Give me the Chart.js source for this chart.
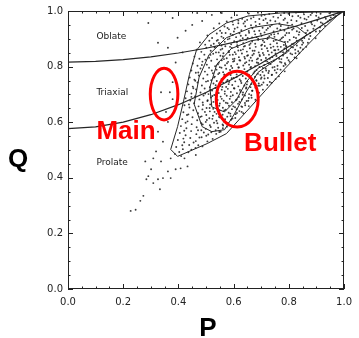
<!DOCTYPE html>
<html>
<head>
<meta charset="utf-8">
<script src="https://cdn.jsdelivr.net/npm/chart.js@4/dist/chart.umd.min.js"></script>
<style>
  html, body { margin: 0; padding: 0; background: #fff; }
  #box { width: 359px; height: 338px; }
</style>
</head>
<body>
<div id="box"><canvas id="chart" width="359" height="338"></canvas></div>
<script>
// axis ticks
const majorTicks = [0, 0.2, 0.4, 0.6, 0.8, 1.0];
const minorTicks = [0.05, 0.1, 0.15, 0.25, 0.3, 0.35, 0.45, 0.5, 0.55, 0.65, 0.7, 0.75, 0.85, 0.9, 0.95];

// boundary curves (oblate / triaxial / prolate)
const edgeP    = [0, 0.1, 0.2, 0.3, 0.4, 0.5, 0.6, 0.7, 0.8, 0.9, 1.0];
const oblateQ  = [0.816, 0.819, 0.825, 0.835, 0.849, 0.866, 0.887, 0.911, 0.938, 0.968, 1.0];
const prolateQ = [0.577, 0.583, 0.600, 0.627, 0.663, 0.707, 0.757, 0.812, 0.872, 0.935, 1.0];

// density contours [P, Q]
const outerContour = [[0.418,0.673],[0.397,0.584],[0.372,0.502],[0.397,0.477],[0.504,0.523],[0.574,0.559],
  [0.645,0.637],[0.716,0.715],[0.787,0.794],[0.858,0.868],[0.929,0.940],[0.989,0.996],[0.894,0.996],
  [0.770,0.993],[0.652,0.982],[0.574,0.957],[0.511,0.915],[0.465,0.858],[0.440,0.772],[0.418,0.673]];
const middleContour = [[0.486,0.584],[0.457,0.665],[0.475,0.762],[0.511,0.843],[0.574,0.904],[0.663,0.940],
  [0.759,0.954],[0.830,0.943],[0.865,0.915],[0.823,0.879],[0.759,0.829],[0.688,0.779],[0.645,0.708],
  [0.603,0.630],[0.567,0.573],[0.521,0.566],[0.486,0.584]];
const innerContour = [[0.521,0.655],[0.514,0.726],[0.539,0.808],[0.592,0.865],[0.663,0.893],[0.734,0.904],
  [0.787,0.886],[0.794,0.851],[0.745,0.822],[0.688,0.794],[0.645,0.744],[0.610,0.680],[0.567,0.637],[0.521,0.655]];

// galaxy shapes [P, Q]
const galaxyPoints = [
  [0.655,0.991],[0.672,0.978],[0.688,0.994],[0.701,0.983],[0.716,0.972],[0.729,0.989],[0.744,0.979],[0.757,0.995],[0.771,0.985],[0.786,0.973],[0.799,0.990],[0.813,0.981],[0.826,0.994],[0.842,0.976],[0.855,0.988],[0.871,0.979],[0.884,0.993],[0.899,0.983],[0.915,0.990],[0.931,0.978],[0.947,0.992],[0.962,0.985],[0.978,0.993],[0.612,0.985],[0.631,0.972],[0.592,0.976],
  [0.575,0.962],[0.598,0.951],[0.617,0.966],[0.636,0.955],[0.649,0.968],[0.663,0.949],[0.679,0.961],[0.694,0.953],[0.708,0.967],[0.722,0.957],[0.738,0.950],[0.751,0.963],[0.766,0.955],[0.781,0.968],[0.795,0.958],[0.812,0.951],[0.828,0.964],[0.846,0.956],[0.864,0.969],[0.881,0.958],[0.903,0.966],[0.922,0.955],[0.941,0.962],[0.548,0.955],
  [0.528,0.938],[0.551,0.929],[0.567,0.944],[0.583,0.934],[0.601,0.926],[0.614,0.941],[0.628,0.931],[0.642,0.945],[0.655,0.928],[0.668,0.938],[0.681,0.947],[0.693,0.929],[0.705,0.940],[0.719,0.932],[0.732,0.944],[0.745,0.926],[0.758,0.937],[0.771,0.946],[0.784,0.930],[0.798,0.941],[0.812,0.933],[0.829,0.927],[0.847,0.939],[0.868,0.930],[0.889,0.936],[0.912,0.928],
  [0.505,0.912],[0.522,0.903],[0.539,0.919],[0.556,0.908],[0.571,0.921],[0.585,0.901],[0.597,0.914],[0.609,0.906],[0.621,0.920],[0.633,0.902],[0.644,0.913],[0.656,0.922],[0.667,0.905],[0.678,0.916],[0.689,0.900],[0.701,0.911],[0.712,0.923],[0.724,0.904],[0.736,0.915],[0.748,0.907],[0.761,0.919],[0.774,0.902],[0.787,0.913],[0.801,0.921],[0.818,0.906],[0.836,0.915],[0.856,0.903],[0.878,0.910],[0.897,0.902],
  [0.478,0.887],[0.497,0.879],[0.512,0.893],[0.528,0.882],[0.543,0.896],[0.556,0.876],[0.568,0.889],[0.579,0.898],[0.591,0.880],[0.602,0.891],[0.613,0.877],[0.624,0.895],[0.635,0.884],[0.646,0.897],[0.657,0.878],[0.667,0.890],[0.678,0.882],[0.689,0.896],[0.700,0.876],[0.711,0.888],[0.722,0.899],[0.733,0.880],[0.745,0.892],[0.757,0.884],[0.769,0.897],[0.782,0.878],[0.796,0.889],[0.811,0.881],[0.829,0.893],[0.848,0.879],[0.869,0.886],
  [0.466,0.861],[0.483,0.853],[0.501,0.868],[0.517,0.857],[0.532,0.871],[0.546,0.851],[0.559,0.864],[0.570,0.873],[0.582,0.855],[0.593,0.867],[0.604,0.852],[0.615,0.870],[0.626,0.859],[0.637,0.872],[0.648,0.854],[0.659,0.866],[0.669,0.857],[0.680,0.871],[0.691,0.851],[0.702,0.863],[0.713,0.874],[0.724,0.856],[0.735,0.868],[0.747,0.859],[0.759,0.872],[0.771,0.853],[0.784,0.865],[0.799,0.857],[0.815,0.869],[0.834,0.855],[0.851,0.862],
  [0.458,0.836],[0.476,0.828],[0.494,0.843],[0.511,0.832],[0.526,0.846],[0.540,0.826],[0.552,0.839],[0.563,0.848],[0.575,0.830],[0.586,0.842],[0.597,0.827],[0.608,0.845],[0.619,0.834],[0.630,0.847],[0.641,0.829],[0.652,0.841],[0.662,0.832],[0.673,0.846],[0.684,0.826],[0.695,0.838],[0.706,0.849],[0.717,0.831],[0.728,0.843],[0.740,0.834],[0.752,0.847],[0.765,0.828],[0.779,0.840],[0.794,0.832],[0.812,0.844],[0.828,0.830],
  [0.452,0.811],[0.469,0.803],[0.487,0.818],[0.503,0.807],[0.519,0.821],[0.533,0.801],[0.546,0.814],[0.557,0.823],[0.569,0.805],[0.580,0.817],[0.591,0.802],[0.602,0.820],[0.613,0.809],[0.624,0.822],[0.635,0.804],[0.646,0.816],[0.656,0.807],[0.667,0.821],[0.678,0.801],[0.689,0.813],[0.700,0.824],[0.711,0.806],[0.722,0.818],[0.734,0.809],[0.746,0.822],[0.759,0.803],[0.773,0.815],[0.788,0.807],[0.803,0.817],
  [0.447,0.786],[0.463,0.778],[0.480,0.793],[0.496,0.782],[0.511,0.796],[0.525,0.776],[0.538,0.789],[0.550,0.798],[0.562,0.780],[0.573,0.792],[0.584,0.777],[0.595,0.795],[0.606,0.784],[0.617,0.797],[0.628,0.779],[0.639,0.791],[0.650,0.782],[0.661,0.796],[0.672,0.776],[0.683,0.788],[0.694,0.799],[0.705,0.781],[0.716,0.793],[0.728,0.784],[0.741,0.797],[0.755,0.778],[0.770,0.789],[0.785,0.783],
  [0.441,0.761],[0.458,0.753],[0.474,0.768],[0.490,0.757],[0.505,0.771],[0.519,0.751],[0.532,0.764],[0.544,0.773],[0.556,0.755],[0.567,0.767],[0.578,0.752],[0.589,0.770],[0.600,0.759],[0.611,0.772],[0.622,0.754],[0.633,0.766],[0.644,0.757],[0.655,0.771],[0.666,0.751],[0.677,0.763],[0.688,0.774],[0.699,0.756],[0.711,0.768],[0.724,0.759],[0.738,0.770],[0.752,0.755],[0.764,0.765],
  [0.436,0.736],[0.452,0.728],[0.469,0.743],[0.485,0.732],[0.500,0.746],[0.514,0.726],[0.527,0.739],[0.539,0.748],[0.551,0.730],[0.562,0.742],[0.573,0.727],[0.584,0.745],[0.595,0.734],[0.606,0.747],[0.617,0.729],[0.628,0.741],[0.639,0.732],[0.650,0.746],[0.661,0.726],[0.672,0.738],[0.683,0.749],[0.695,0.731],[0.708,0.743],[0.722,0.734],[0.737,0.741],
  [0.431,0.711],[0.447,0.703],[0.464,0.718],[0.480,0.707],[0.495,0.721],[0.509,0.701],[0.522,0.714],[0.534,0.723],[0.546,0.705],[0.557,0.717],[0.568,0.702],[0.579,0.720],[0.590,0.709],[0.601,0.722],[0.612,0.704],[0.623,0.716],[0.634,0.707],[0.645,0.721],[0.656,0.701],[0.667,0.713],[0.679,0.724],[0.692,0.706],[0.706,0.717],
  [0.426,0.686],[0.443,0.678],[0.460,0.693],[0.476,0.682],[0.491,0.696],[0.505,0.676],[0.518,0.689],[0.530,0.698],[0.542,0.680],[0.553,0.692],[0.564,0.677],[0.575,0.695],[0.586,0.684],[0.597,0.697],[0.608,0.679],[0.619,0.691],[0.630,0.682],[0.641,0.696],[0.653,0.677],[0.665,0.688],[0.679,0.681],
  [0.422,0.661],[0.440,0.653],[0.457,0.668],[0.473,0.657],[0.488,0.671],[0.502,0.651],[0.515,0.664],[0.527,0.673],[0.539,0.655],[0.550,0.667],[0.561,0.652],[0.572,0.670],[0.583,0.659],[0.594,0.672],[0.605,0.654],[0.616,0.666],[0.628,0.657],[0.641,0.669],[0.655,0.658],
  [0.418,0.636],[0.436,0.628],[0.454,0.643],[0.471,0.632],[0.487,0.646],[0.501,0.626],[0.514,0.639],[0.526,0.648],[0.538,0.630],[0.549,0.642],[0.560,0.627],[0.571,0.645],[0.582,0.634],[0.594,0.647],[0.607,0.629],[0.621,0.640],[0.635,0.632],
  [0.414,0.611],[0.433,0.603],[0.451,0.618],[0.468,0.607],[0.484,0.621],[0.499,0.601],[0.512,0.614],[0.525,0.623],[0.538,0.605],[0.551,0.617],[0.564,0.602],[0.577,0.620],[0.591,0.609],[0.606,0.615],
  [0.409,0.586],[0.429,0.578],[0.448,0.593],[0.466,0.582],[0.483,0.596],[0.499,0.576],[0.514,0.589],[0.529,0.598],[0.544,0.580],[0.560,0.592],[0.576,0.584],
  [0.405,0.561],[0.426,0.553],[0.446,0.568],[0.465,0.557],[0.483,0.571],[0.501,0.551],[0.519,0.564],[0.537,0.558],[0.553,0.566],
  [0.398,0.536],[0.421,0.528],[0.443,0.543],[0.463,0.532],[0.484,0.546],[0.505,0.531],[0.524,0.540],
  [0.392,0.511],[0.416,0.503],[0.439,0.518],[0.462,0.507],[0.487,0.513],
  [0.387,0.486],[0.410,0.478],[0.436,0.492],[0.463,0.482],
  [0.227,0.281],[0.245,0.285],[0.262,0.317],[0.273,0.335],[0.284,0.395],[0.280,0.459],[0.309,0.470],[0.337,0.459],[0.301,0.431],[0.291,0.406],[0.326,0.395],[0.344,0.399],[0.372,0.399],[0.333,0.359],[0.309,0.381],[0.362,0.423],[0.372,0.470],[0.422,0.470],[0.433,0.441],[0.408,0.434],[0.390,0.431],
  [0.337,0.708],[0.369,0.708],[0.379,0.683],[0.355,0.637],[0.326,0.566],[0.344,0.530],[0.319,0.495],[0.362,0.601],[0.379,0.744],[0.390,0.815],[0.362,0.868],[0.397,0.904],[0.426,0.929],[0.450,0.950],[0.486,0.964],[0.521,0.986],[0.415,0.851],[0.326,0.886],[0.291,0.957],[0.379,0.975],[0.468,0.993],[0.557,0.993]
];

// second, denser reading of the core of the cloud
const galaxyCore = [
  [0.612,0.887],[0.587,0.871],[0.634,0.862],[0.661,0.883],[0.649,0.839],[0.676,0.857],[0.703,0.879],[0.694,0.842],[0.721,0.866],[0.738,0.851],[0.716,0.821],[0.744,0.872],[0.762,0.861],[0.755,0.838],[0.779,0.852],[0.791,0.873],[0.773,0.827],[0.806,0.847],[0.823,0.861],[0.817,0.882],
  [0.598,0.818],[0.619,0.797],[0.641,0.812],[0.663,0.799],[0.684,0.815],[0.706,0.795],[0.727,0.812],[0.748,0.799],[0.768,0.817],[0.781,0.802],[0.633,0.781],[0.655,0.768],[0.676,0.783],[0.697,0.770],[0.718,0.786],[0.739,0.771],[0.759,0.791],[0.611,0.763],[0.626,0.748],[0.648,0.736],[0.669,0.752],[0.691,0.739],[0.712,0.757],[0.731,0.745],
  [0.582,0.737],[0.603,0.721],[0.625,0.709],[0.646,0.725],[0.668,0.713],[0.689,0.731],[0.568,0.711],[0.589,0.693],[0.611,0.682],[0.633,0.699],[0.655,0.687],[0.557,0.684],[0.578,0.668],[0.599,0.657],[0.621,0.673],[0.642,0.661],[0.548,0.659],[0.566,0.642],[0.588,0.631],[0.611,0.647],[0.629,0.637],
  [0.531,0.637],[0.547,0.619],[0.569,0.611],[0.589,0.622],[0.523,0.612],[0.541,0.596],[0.562,0.588],[0.517,0.583],[0.535,0.571],[0.508,0.556],
  [0.565,0.827],[0.543,0.808],[0.521,0.786],[0.548,0.777],[0.529,0.761],[0.507,0.748],[0.535,0.733],[0.516,0.717],[0.497,0.703],[0.523,0.694],[0.506,0.679],[0.489,0.662],[0.513,0.651],[0.496,0.637],[0.479,0.619],[0.503,0.608],[0.488,0.592],[0.471,0.571],[0.492,0.563],[0.476,0.545],[0.455,0.527],[0.472,0.517],[0.447,0.501],
  [0.583,0.852],[0.561,0.837],[0.597,0.843],[0.576,0.812],[0.556,0.796],[0.587,0.788],[0.566,0.772],[0.593,0.758],[0.574,0.747],[0.559,0.727],
  [0.675,0.927],[0.698,0.918],[0.724,0.938],[0.747,0.916],[0.769,0.933],[0.792,0.921],[0.817,0.937],[0.838,0.924],[0.859,0.946],[0.877,0.921],[0.893,0.947],[0.913,0.941],[0.934,0.972],[0.952,0.977],[0.969,0.981],
  [0.626,0.911],[0.651,0.903],[0.683,0.906],[0.706,0.894],[0.729,0.909],[0.753,0.896],[0.779,0.906],[0.803,0.896],[0.826,0.903],[0.848,0.893],[0.863,0.871],[0.842,0.868],[0.821,0.833],[0.799,0.823],[0.786,0.812],
  [0.604,0.936],[0.589,0.917],[0.563,0.903],[0.547,0.885],[0.531,0.869],[0.516,0.842],[0.498,0.825],[0.485,0.806],[0.472,0.779],[0.461,0.749],[0.454,0.722],[0.447,0.691],[0.438,0.664],[0.431,0.626],[0.426,0.598],[0.421,0.569],[0.418,0.541],[0.414,0.517],[0.403,0.493],
  [0.664,0.737],[0.682,0.751],[0.701,0.761],[0.726,0.777],[0.749,0.787],[0.702,0.735],[0.684,0.716],[0.664,0.697],[0.647,0.676],[0.631,0.655],[0.612,0.633],[0.596,0.613],[0.579,0.597],[0.561,0.578],[0.548,0.565],
  [0.641,0.874],[0.617,0.858],[0.603,0.828],[0.621,0.823],[0.639,0.835],[0.657,0.822],[0.668,0.841],[0.688,0.829],[0.709,0.842],[0.731,0.828],[0.751,0.859],[0.771,0.871],[0.786,0.889],[0.808,0.871],[0.829,0.876],
  [0.536,0.851],[0.553,0.861],[0.518,0.876],[0.539,0.893],[0.557,0.921],[0.578,0.939],[0.596,0.961],[0.617,0.956],[0.641,0.962],[0.663,0.973],[0.693,0.971],[0.712,0.986],[0.733,0.966],[0.761,0.976],[0.783,0.993],[0.809,0.967],[0.834,0.982],[0.857,0.972],[0.879,0.986],[0.908,0.977],
  [0.862,0.921],[0.884,0.952],[0.898,0.926],[0.916,0.959],[0.931,0.946],[0.948,0.968],[0.873,0.899],[0.852,0.886],[0.838,0.848],[0.824,0.848]
];

// text and circled regions drawn on top
const regionNotes = [
  { text: 'Oblate',   p: 0.103, q: 0.898 },
  { text: 'Triaxial', p: 0.103, q: 0.699 },
  { text: 'Prolate',  p: 0.103, q: 0.447 }
];
const redNotes = [
  { text: 'Main',   p: 0.103, q: 0.541 },
  { text: 'Bullet', p: 0.638, q: 0.495 }
];
const redRings = [
  { p: 0.348, q: 0.701, rp: 0.050, rq: 0.093 },
  { p: 0.613, q: 0.683, rp: 0.076, rq: 0.100 }
];

const toXY = arr => arr.map(d => ({ x: d[0], y: d[1] }));
const lineSet = (data, w) => ({
  data: data, showLine: true, pointRadius: 0, borderColor: '#262626',
  borderWidth: w, tension: 0, fill: false, order: 0
});
const dotSet = data => ({
  data: toXY(data), pointRadius: 0.95, borderWidth: 0,
  backgroundColor: 'rgba(25,25,25,0.85)', order: 1
});

const framePlugin = {
  id: 'frame',
  afterDraw(chart) {
    const { ctx, chartArea: a, scales: { x, y } } = chart;
    ctx.save();
    ctx.strokeStyle = '#222';
    ctx.lineWidth = 1;
    ctx.strokeRect(Math.round(a.left) + 0.5, Math.round(a.top) + 0.5,
      Math.round(a.right - a.left) - 1, Math.round(a.bottom - a.top) - 1);
    const tick = (v, len) => {
      const px = Math.round(x.getPixelForValue(v)) + 0.5;
      const py = Math.round(y.getPixelForValue(v)) + 0.5;
      ctx.beginPath();
      ctx.moveTo(px, a.bottom); ctx.lineTo(px, a.bottom - len);
      ctx.moveTo(px, a.top);    ctx.lineTo(px, a.top + len);
      ctx.moveTo(a.left, py);   ctx.lineTo(a.left + len, py);
      ctx.moveTo(a.right, py);  ctx.lineTo(a.right - len, py);
      ctx.stroke();
    };
    majorTicks.forEach(v => tick(v, 5));
    minorTicks.forEach(v => tick(v, 2.5));

    ctx.fillStyle = '#222';
    ctx.font = '9px "DejaVu Sans"';
    ctx.textAlign = 'left';
    ctx.textBaseline = 'alphabetic';
    regionNotes.forEach(n => ctx.fillText(n.text, x.getPixelForValue(n.p), y.getPixelForValue(n.q)));

    ctx.strokeStyle = '#ff0000';
    ctx.lineWidth = 3;
    redRings.forEach(r => {
      const cx = x.getPixelForValue(r.p), cy = y.getPixelForValue(r.q);
      const rx = x.getPixelForValue(r.p + r.rp) - cx;
      const ry = cy - y.getPixelForValue(r.q + r.rq);
      ctx.beginPath();
      ctx.ellipse(cx, cy, rx, ry, 0, 0, Math.PI * 2);
      ctx.stroke();
    });
    ctx.fillStyle = '#ff0000';
    ctx.font = 'bold 26px "Liberation Sans"';
    redNotes.forEach(n => ctx.fillText(n.text, x.getPixelForValue(n.p), y.getPixelForValue(n.q)));

    // axis names
    ctx.fillStyle = '#000';
    ctx.font = 'bold 26px "Liberation Sans"';
    ctx.textAlign = 'center';
    ctx.fillText('Q', a.left - 50, (a.top + a.bottom) / 2 + 17);
    ctx.fillText('P', (a.left + a.right) / 2 + 2, chart.height - 2);
    ctx.restore();
  }
};

const tickFont = { family: 'DejaVu Sans', size: 10 };

new Chart(document.getElementById('chart'), {
  type: 'scatter',
  data: {
    datasets: [
      lineSet(edgeP.map((p, i) => ({ x: p, y: oblateQ[i] })), 1.2),
      lineSet(edgeP.map((p, i) => ({ x: p, y: prolateQ[i] })), 1.2),
      lineSet(toXY(outerContour), 1),
      lineSet(toXY(middleContour), 1),
      lineSet(toXY(innerContour), 1),
      dotSet(galaxyPoints),
      dotSet(galaxyCore)
    ]
  },
  options: {
    responsive: false,
    animation: false,
    layout: { padding: { top: 8, right: 9, left: 0, bottom: 0 } },
    plugins: { legend: { display: false }, tooltip: { enabled: false } },
    scales: {
      x: {
        type: 'linear', min: 0, max: 1,
        afterFit(s) { s.height = 49; },
        grid: { display: false, drawTicks: false }, border: { display: false },
        ticks: { stepSize: 0.2, padding: 7, color: '#222', font: tickFont,
          maxRotation: 0, autoSkip: false, callback: v => v.toFixed(1) }
      },
      y: {
        type: 'linear', min: 0, max: 1,
        afterFit(s) { s.width = 68; },
        grid: { display: false, drawTicks: false }, border: { display: false },
        ticks: { stepSize: 0.2, padding: 5, color: '#222', font: tickFont,
          autoSkip: false, callback: v => v.toFixed(1) }
      }
    }
  },
  plugins: [framePlugin]
});
</script>
</body>
</html>
